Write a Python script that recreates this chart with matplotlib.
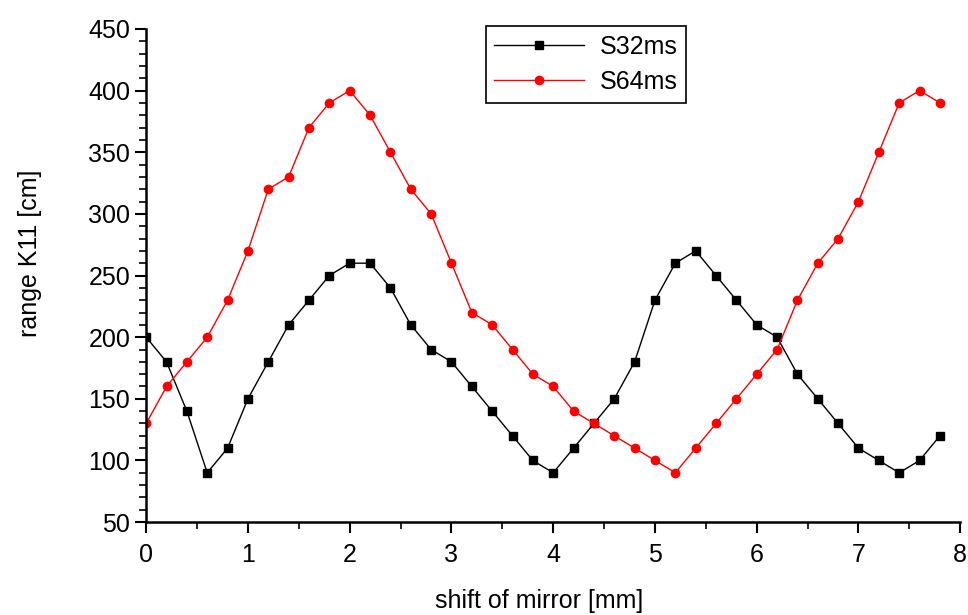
import numpy as np
import matplotlib
matplotlib.use("Agg")
import matplotlib.pyplot as plt
from matplotlib.ticker import MultipleLocator

plt.rcParams['font.family'] = ['Liberation Sans', 'DejaVu Sans']

# Daten
shift = [0.0, 0.2, 0.4, 0.6, 0.8, 1.0, 1.2, 1.4, 1.6, 1.8,
         2.0, 2.2, 2.4, 2.6, 2.8, 3.0, 3.2, 3.4, 3.6, 3.8,
         4.0, 4.2, 4.4, 4.6, 4.8, 5.0, 5.2, 5.4, 5.6, 5.8,
         6.0, 6.2, 6.4, 6.6, 6.8, 7.0, 7.2, 7.4, 7.6, 7.8]
s32ms = [200, 180, 140, 90, 110, 150, 180, 210, 230, 250,
         260, 260, 240, 210, 190, 180, 160, 140, 120, 100,
         90, 110, 130, 150, 180, 230, 260, 270, 250, 230,
         210, 200, 170, 150, 130, 110, 100, 90, 100, 120]
s64ms = [130, 160, 180, 200, 230, 270, 320, 330, 370, 390,
         400, 380, 350, 320, 300, 260, 220, 210, 190, 170,
         160, 140, 130, 120, 110, 100, 90, 110, 130, 150,
         170, 190, 230, 260, 280, 310, 350, 390, 400, 390]

fig = plt.figure(figsize=(9.68, 6.15), dpi=100)
ax = fig.add_axes([0.151, 0.151, 0.841, 0.802])

ax.plot(shift, s32ms, color="black", lw=1.0, marker="s", ms=6, label="S32ms")
ax.plot(shift, s64ms, color="red", lw=1.0, marker="o", ms=6, label="S64ms")

ax.set_xlim(0, 8)
ax.set_ylim(50, 450)
ax.xaxis.set_major_locator(MultipleLocator(1))
ax.xaxis.set_minor_locator(MultipleLocator(0.5))
ax.yaxis.set_major_locator(MultipleLocator(50))
ax.yaxis.set_minor_locator(MultipleLocator(10))

ax.spines["top"].set_visible(False)
ax.spines["right"].set_visible(False)
ax.spines["left"].set_linewidth(1.8)
ax.spines["bottom"].set_linewidth(1.8)
ax.tick_params(which="major", direction="out", length=8, width=1.5, labelsize=18)
ax.tick_params(axis="x", which="major", pad=7)
ax.tick_params(which="minor", direction="out", length=5, width=1.2)

ax.set_xlabel("shift of mirror [mm]", fontsize=18)
ax.set_ylabel("range K11 [cm]", fontsize=18)
ax.xaxis.set_label_coords(0.483, -0.135)
ax.yaxis.set_label_coords(-0.128, 0.546)

leg = ax.legend(loc="upper center", bbox_to_anchor=(0.54, 1.006), fontsize=18,
                fancybox=False, framealpha=1, edgecolor="black",
                handlelength=3.6, borderpad=0.35, labelspacing=0.45,
                handletextpad=0.6, borderaxespad=0)
leg.get_frame().set_linewidth(1.2)

fig.savefig("out.png", dpi=100)
